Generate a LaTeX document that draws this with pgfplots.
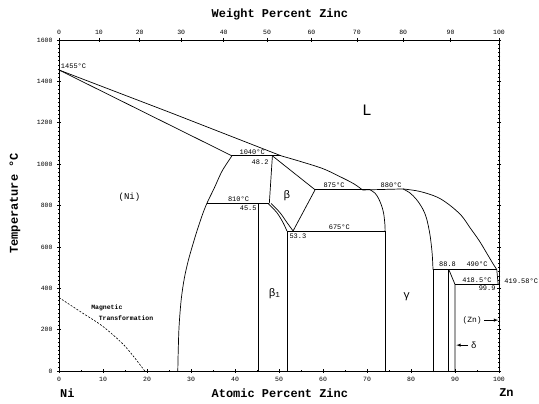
\documentclass[border=0pt]{standalone}
\usepackage{fontspec}
\setmainfont{Liberation Serif}
\newfontfamily\plotfont{Liberation Mono}
\usepackage{pgfplots}
\pgfplotsset{compat=1.18}
\begin{document}
\begin{tikzpicture}
\path[use as bounding box] (0,0) rectangle (539bp,404bp);
\pgfplotsset{
  phase/.style={black, line width=0.7bp, no marks},
  curve/.style={black, line width=0.7bp, no marks, smooth, tension=0.55},
}
\tikzset{
  lbl/.style={font=\plotfont\fontsize{7}{8}\selectfont, inner sep=0pt},
  ttl/.style={font=\plotfont\bfseries\fontsize{12}{13}\selectfont, inner sep=0pt},
}
% Ni-Zn phase diagram, atomic percent axis
\begin{axis}[
  at={(59bp,33bp)}, anchor=south west,
  scale only axis, width=440bp, height=331bp,
  xmin=0, xmax=100, ymin=0, ymax=1600,
  clip=false,
  axis line style={line width=0.9bp},
  xtick={0,10,...,100},
  xtick pos=bottom,
  ytick={0,200,...,1600},
  yticklabel pos=left,
  ytick pos=both,
  minor y tick num=9,
  minor x tick num=1,
  tick align=center,
  major tick length=4bp, minor tick length=2.5bp,
  tick style={line width=0.6bp, black},
  /pgf/number format/assume math mode=true,
  /pgf/number format/1000 sep={},
  ticklabel style={font=\plotfont\fontsize{6.5}{7}\selectfont},
  xticklabel style={yshift=-1bp},
  yticklabel style={xshift=-1bp},
]
% liquidus
\addplot[phase] coordinates {(0,1455) (25.5,1247.5) (50.5,1040)};
\addplot[curve] coordinates {(50.5,1040) (55,1012) (60,978) (64,938) (67,905) (69,875)};
\addplot[phase] coordinates {(69,875) (70.7,876) (78.2,880)};
\addplot[curve] coordinates {(78.2,880) (82,868) (86,840) (88.9,800) (91.5,750) (93.5,690) (95.5,630) (97.2,570) (98.6,520) (99.5,490)};
\addplot[phase] coordinates {(99.5,490) (99.8,418.5) (100,419.58)};
% (Ni) solidus and solvus
\addplot[phase] coordinates {(0,1455) (39.3,1040)};
\addplot[curve] coordinates {(39.3,1040) (38.2,1005) (36.9,960) (35.3,885) (33.6,810) (32.5,750) (31.4,680) (30.4,610) (29.4,535) (28.5,450) (27.8,350) (27.3,220) (27.1,100) (27,0)};
% invariant lines
\addplot[phase] coordinates {(39.3,1040) (50.5,1040)};
\addplot[phase] coordinates {(33.6,810) (47.8,810)};
\addplot[phase] coordinates {(58.2,876) (70.7,876)};
\addplot[phase] coordinates {(51.8,677) (74.1,677)};
\addplot[phase] coordinates {(85,490) (99.5,490)};
\addplot[phase] coordinates {(90,418.5) (99.8,418.5)};
% beta
\addplot[phase] coordinates {(48.5,1040) (47.8,810)};
\addplot[phase] coordinates {(48.5,1040) (58.2,876)};
\addplot[phase] coordinates {(58.2,876) (53.2,677)};
\addplot[curve] coordinates {(48.2,810) (50.2,766) (51.8,718) (53.2,677)};
% beta1
\addplot[phase] coordinates {(45.2,810) (45.2,0)};
\addplot[curve] coordinates {(47.5,810) (49.5,766) (50.9,718) (51.8,677)};
\addplot[phase] coordinates {(51.8,677) (51.8,0)};
% gamma
\addplot[curve] coordinates {(70.7,876) (71.8,860) (72.6,835) (73.3,800) (73.8,760) (74.1,700) (74.1,677)};
\addplot[phase] coordinates {(74.1,677) (74.1,0)};
\addplot[curve] coordinates {(78.2,880) (79.8,860) (81.2,830) (82.5,790) (83.5,740) (84.3,660) (84.8,570) (85,490)};
\addplot[phase] coordinates {(85,490) (85,0)};
% delta
\addplot[phase] coordinates {(88.6,490) (88.6,0)};
\addplot[phase] coordinates {(88.6,490) (90,418.5) (90,0)};
% magnetic transformation
\addplot[black, line width=0.6bp, dash pattern=on 2bp off 1.5bp, no marks, smooth] coordinates {(0,355) (5,285) (10,215) (15,120) (19.5,0)};

% temperatures and compositions
\node[lbl, anchor=west] at (axis cs:0.4,1475) {1455°C};
\node[lbl] at (axis cs:43.9,1057) {1040°C};
\node[lbl] at (axis cs:45.7,1008) {48.2};
\node[lbl] at (axis cs:40.8,830) {810°C};
\node[lbl] at (axis cs:43,786) {45.5};
\node[lbl] at (axis cs:62.5,896) {875°C};
\node[lbl] at (axis cs:75.5,896) {880°C};
\node[lbl] at (axis cs:63.7,696) {675°C};
\node[lbl] at (axis cs:54.3,650) {53.3};
\node[lbl] at (axis cs:88.3,514) {88.8};
\node[lbl] at (axis cs:95,514) {490°C};
\node[lbl] at (axis cs:95,438) {418.5°C};
\node[lbl] at (axis cs:97.3,402) {99.9};
\node[lbl, anchor=west] at (axis cs:101.2,434) {419.58°C};
% phase fields
\node[lbl, font=\plotfont\fontsize{9}{10}\selectfont] at (axis cs:16,838) {(Ni)};
\node[lbl, font=\plotfont\fontsize{11}{12}\selectfont] at (axis cs:51.8,848) {β};
\node[lbl, font=\plotfont\fontsize{16}{17}\selectfont] at (axis cs:70,1258) {L};
\node[lbl, font=\plotfont\fontsize{11}{12}\selectfont] at (axis cs:49,376) {β\textsubscript{1}};
\node[lbl, font=\plotfont\fontsize{11}{12}\selectfont] at (axis cs:79,357) {γ};
\node[lbl, font=\plotfont\fontsize{8}{9}\selectfont] at (axis cs:93.9,246) {(Zn)};
\draw[-latex, line width=0.5bp] (axis cs:96.6,246) -- (axis cs:99.8,246);
\node[lbl, font=\plotfont\fontsize{9}{10}\selectfont] at (axis cs:94.3,125) {δ};
\draw[-latex, line width=0.5bp] (axis cs:93,125) -- (axis cs:90.3,125);
\node[lbl, font=\plotfont\bfseries\fontsize{6.5}{7}\selectfont, anchor=west] at (axis cs:7.3,304) {Magnetic};
\node[lbl, font=\plotfont\bfseries\fontsize{6.5}{7}\selectfont, anchor=west] at (axis cs:9,255) {Transformation};
% axis titles
\node[ttl] at (axis cs:50.2,-106) {Atomic Percent Zinc};
\node[ttl] at (axis cs:1.9,-106) {Ni};
\node[ttl] at (axis cs:101.7,-106) {Zn};
\node[ttl] at (axis cs:50.2,1722) {Weight Percent Zinc};
\node[ttl, rotate=90] at (axis cs:-10,810) {Temperature °C};
\end{axis}
% weight percent scale along the top
\begin{axis}[
  at={(59bp,33bp)}, anchor=south west,
  scale only axis, width=440bp, height=331bp,
  xmin=0, xmax=100, ymin=0, ymax=1600,
  axis x line*=top, axis y line=none,
  axis line style={line width=0.9bp},
  xtick={0,9.07,18.33,27.78,37.44,47.30,57.38,67.69,78.22,88.99,100},
  xticklabels={0,10,20,30,40,50,60,70,80,90,100},
  minor x tick num=1,
  tick align=center, major tick length=4bp, minor tick length=2.5bp,
  tick style={line width=0.6bp, black},
  ticklabel style={font=\plotfont\fontsize{6.5}{7}\selectfont},
  xticklabel style={yshift=0bp},
]
\end{axis}
\end{tikzpicture}
\end{document}
